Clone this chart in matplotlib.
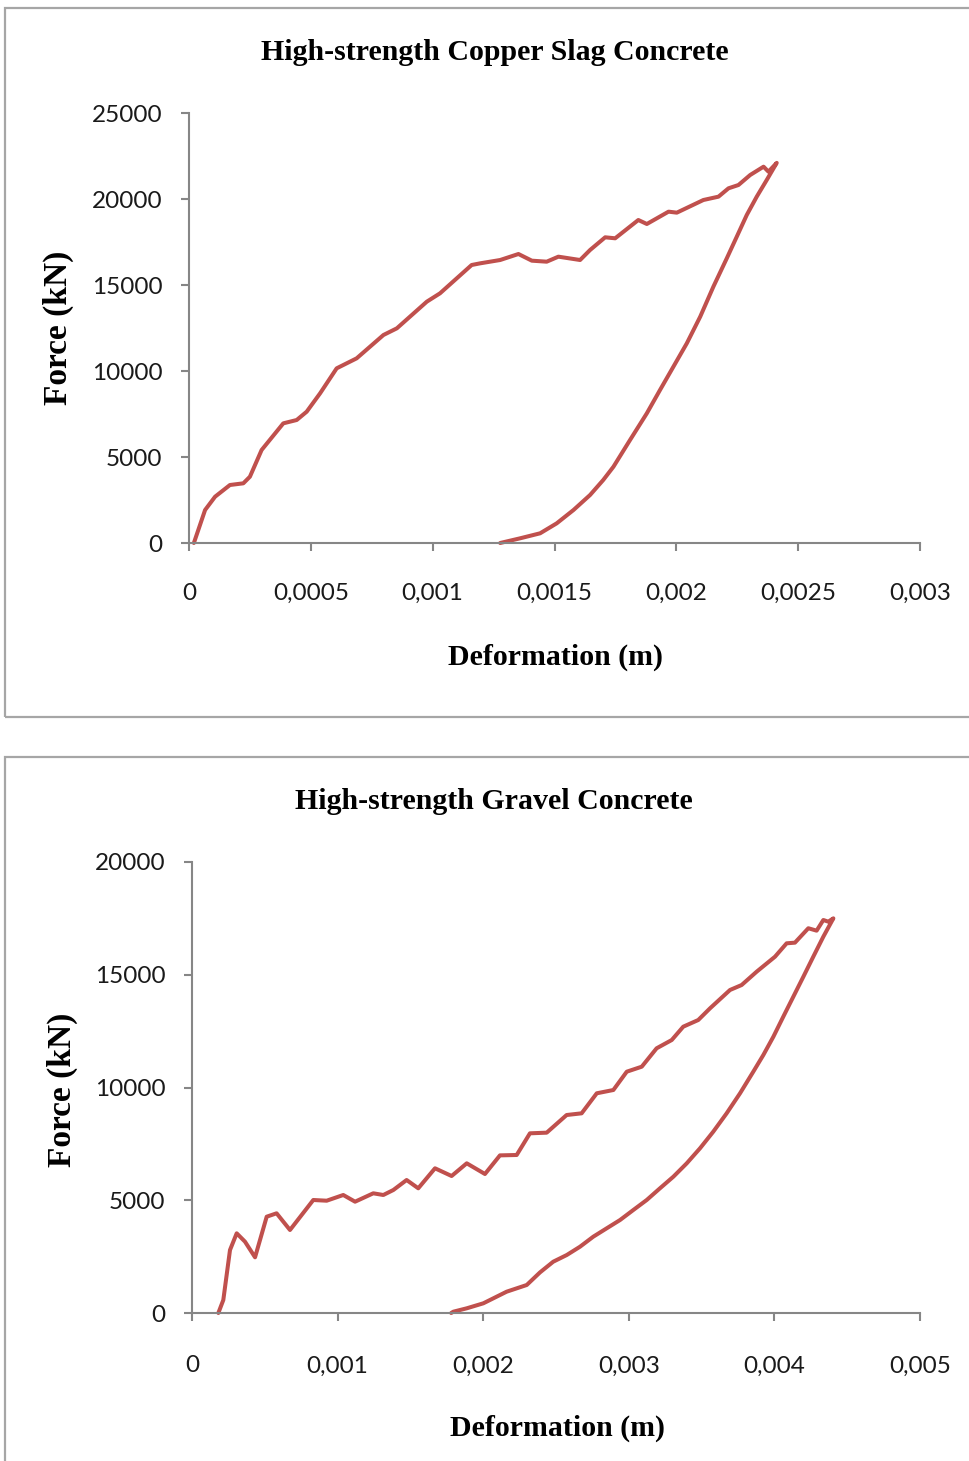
import matplotlib
matplotlib.use("Agg")
import matplotlib.pyplot as plt
from matplotlib.patches import Rectangle

# ---- Copper slag concrete: loading branch (deformation m, force kN) ----
cs_load_x = [0.00002, 0.000066, 0.000107, 0.000168, 0.000223, 0.00025, 0.000298,
             0.000387, 0.000442, 0.000483, 0.000538, 0.000606, 0.000688, 0.000798,
             0.000853, 0.000976, 0.00103, 0.00116, 0.001195, 0.001277, 0.001352,
             0.001407, 0.001468, 0.001516, 0.001605, 0.001646, 0.001708, 0.001749,
             0.001844, 0.001879, 0.001968, 0.002002, 0.002111, 0.002173, 0.002214,
             0.002255, 0.002303, 0.002358, 0.002378, 0.002412]
cs_load_f = [0, 1919, 2692, 3372, 3470, 3855, 5407,
             6957, 7151, 7634, 8702, 10155, 10736, 12093,
             12481, 14031, 14515, 16163, 16260, 16453, 16802,
             16414, 16356, 16647, 16453, 17035, 17773, 17715,
             18779, 18547, 19264, 19206, 19942, 20136, 20621,
             20814, 21395, 21879, 21589, 22100]
# ---- Copper slag concrete: unloading branch ----
cs_unload_x = [0.002412, 0.002371, 0.00233, 0.002289, 0.002248, 0.002207, 0.002152,
               0.002098, 0.002043, 0.001988, 0.001933, 0.001879, 0.00181, 0.001742,
               0.0017, 0.001646, 0.001578, 0.001509, 0.001441, 0.001359, 0.001277]
cs_unload_f = [22100, 21105, 20136, 19070, 17808, 16550, 14902,
               13158, 11609, 10252, 8895, 7541, 5988, 4436,
               3663, 2791, 1919, 1143, 564, 273, 0]

# ---- Gravel concrete: loading branch ----
gr_load_x = [0.000181, 0.000215, 0.000261, 0.000307, 0.000364, 0.000433, 0.000513,
             0.000581, 0.000673, 0.000833, 0.000925, 0.001039, 0.00112, 0.001245,
             0.001314, 0.001383, 0.001474, 0.001554, 0.001669, 0.001783, 0.001887,
             0.002012, 0.002115, 0.00223, 0.002321, 0.002436, 0.002573, 0.002676,
             0.00278, 0.002894, 0.002986, 0.003089, 0.003191, 0.003295, 0.003374,
             0.003477, 0.003558, 0.003695, 0.003775, 0.003878, 0.004004, 0.004084,
             0.004141, 0.004233, 0.00429, 0.004336, 0.00437, 0.004405]
gr_load_f = [0, 576, 2794, 3534, 3163, 2470, 4271,
             4421, 3681, 5011, 4980, 5233, 4936, 5308,
             5233, 5455, 5898, 5530, 6417, 6075, 6638,
             6164, 6990, 7007, 7968, 7997, 8780, 8855,
             9743, 9889, 10701, 10923, 11738, 12106, 12697,
             12993, 13512, 14324, 14545, 15135, 15800, 16394,
             16423, 17062, 16955, 17428, 17354, 17502]
# ---- Gravel concrete: unloading branch ----
gr_unload_x = [0.004405, 0.004336, 0.004267, 0.004199, 0.00413, 0.004061, 0.003993,
               0.003924, 0.003855, 0.003764, 0.003672, 0.00358, 0.003489, 0.003398,
               0.003306, 0.003214, 0.003123, 0.003031, 0.00294, 0.002848, 0.002756,
               0.002665, 0.002574, 0.002481, 0.00239, 0.002299, 0.002161, 0.002001,
               0.001887, 0.001795, 0.00178]
gr_unload_f = [17502, 16687, 15800, 14914, 14027, 13140, 12253,
               11441, 10701, 9743, 8855, 8040, 7303, 6638,
               6044, 5530, 5011, 4568, 4124, 3755, 3384,
               2940, 2572, 2275, 1800, 1242, 945, 430,
               208, 58, 0]

cs_xticks = [0, 0.0005, 0.001, 0.0015, 0.002, 0.0025, 0.003]
cs_xlabels = ["0", "0,0005", "0,001", "0,0015", "0,002", "0,0025", "0,003"]
cs_yticks = [0, 5000, 10000, 15000, 20000, 25000]
gr_xticks = [0, 0.001, 0.002, 0.003, 0.004, 0.005]
gr_xlabels = ["0", "0,001", "0,002", "0,003", "0,004", "0,005"]
gr_yticks = [0, 5000, 10000, 15000, 20000]

titles = ["High-strength Copper Slag Concrete", "High-strength Gravel Concrete"]

W, H = 969, 1461
fig = plt.figure(figsize=(W / 100, H / 100), dpi=100)
fig.patch.set_facecolor("white")

LINE = "#C0504D"
SPINE = "#868686"
SERIF = "Liberation Serif"
TICKFONT = "Lato"


def fx(px):
    return px / W


def fy(py):
    return 1 - py / H


# outer chart frames
for (x0, y0, x1, y1) in [(5, 8, 990, 717), (5, 757, 990, 1490)]:
    fig.patches.append(Rectangle((fx(x0), fy(y1)), fx(x1) - fx(x0), fy(y0) - fy(y1),
                                 transform=fig.transFigure, fill=False,
                                 edgecolor="#a6a6a6", linewidth=1.6, clip_on=False))


def style_axes(ax, xticks, xlabels, yticks, xpad):
    for s in ("top", "right"):
        ax.spines[s].set_visible(False)
    for s in ("left", "bottom"):
        ax.spines[s].set_color(SPINE)
        ax.spines[s].set_linewidth(1.5)
    ax.set_xticks(xticks)
    ax.set_xticklabels(xlabels)
    ax.set_yticks(yticks)
    ax.set_yticklabels([str(v) for v in yticks])
    ax.tick_params(axis="both", direction="out", length=6, width=1.5, color=SPINE,
                   labelsize=17.5, labelcolor="#1a1a1a")
    ax.tick_params(axis="x", pad=xpad)
    ax.tick_params(axis="y", pad=13)
    for lab in ax.get_xticklabels() + ax.get_yticklabels():
        lab.set_fontfamily(TICKFONT)


# top panel
ax1 = fig.add_axes([fx(189), fy(543), fx(920) - fx(189), fy(113) - fy(543)])
ax1.plot(cs_load_x + cs_unload_x, cs_load_f + cs_unload_f, color=LINE, lw=2.9,
         solid_joinstyle="round", solid_capstyle="round", clip_on=False)
ax1.set_xlim(0, 0.003)
ax1.set_ylim(0, 25000)
style_axes(ax1, cs_xticks, cs_xlabels, cs_yticks, 23)

# bottom panel
ax2 = fig.add_axes([fx(192), fy(1313), fx(920) - fx(192), fy(862) - fy(1313)])
ax2.plot(gr_load_x + gr_unload_x, gr_load_f + gr_unload_f, color=LINE, lw=2.9,
         solid_joinstyle="round", solid_capstyle="round", clip_on=False)
ax2.set_xlim(0, 0.005)
ax2.set_ylim(0, 20000)
style_axes(ax2, gr_xticks, gr_xlabels, gr_yticks, 24.5)

# titles and axis labels
fig.text(fx(495), fy(53), titles[0], ha="center", va="center", family=SERIF,
         weight="bold", size=21.5)
fig.text(fx(494), fy(802), titles[1], ha="center", va="center", family=SERIF,
         weight="bold", size=21.5)
fig.text(fx(556), fy(657), "Deformation (m)", ha="center", va="center", family=SERIF,
         weight="bold", size=21.5)
fig.text(fx(557), fy(1428), "Deformation (m)", ha="center", va="center", family=SERIF,
         weight="bold", size=21.5)
fig.text(fx(58), fy(328), "Force (kN)", ha="center", va="center", rotation=90,
         family=SERIF, weight="bold", size=24)
fig.text(fx(62), fy(1090), "Force (kN)", ha="center", va="center", rotation=90,
         family=SERIF, weight="bold", size=24)

fig.savefig("out.png", dpi=100, facecolor="white")
